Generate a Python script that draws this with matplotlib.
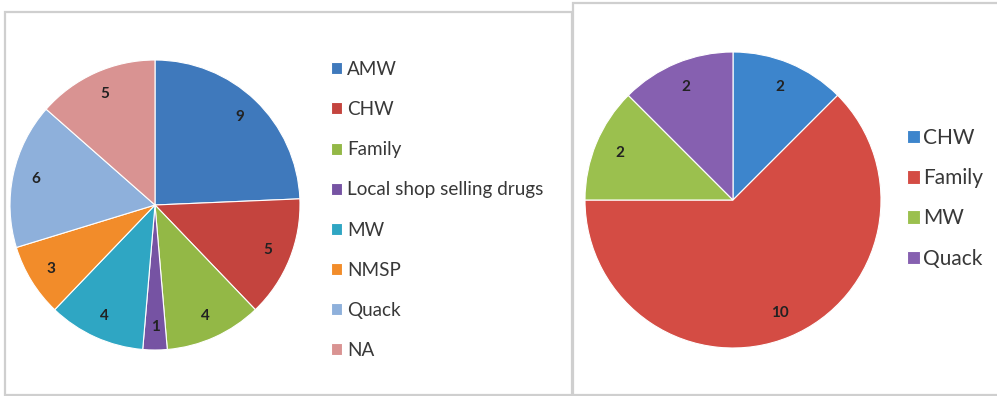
import matplotlib
matplotlib.use("Agg")
import matplotlib.pyplot as plt
from matplotlib.patches import Rectangle

plt.rcParams['font.family'] = ['Lato', 'DejaVu Sans']

# Sources of care, first group
left_labels = ["AMW", "CHW", "Family", "Local shop selling drugs", "MW", "NMSP", "Quack", "NA"]
left_values = [9, 5, 4, 1, 4, 3, 6, 5]
left_colors = ["#3F79BC", "#C4443E", "#93B846", "#7653A3", "#2FA6C3", "#F28C2A", "#8EB0DB", "#D99392"]

# Sources of care, second group
right_labels = ["CHW", "Family", "MW", "Quack"]
right_values = [2, 10, 2, 2]
right_colors = ["#3D85CC", "#D44C44", "#9BC04E", "#8660B0"]

W, H = 997, 396
fig = plt.figure(figsize=(W / 100, H / 100), dpi=100)
fig.patch.set_facecolor("white")


def px_axes(cx, cy, r):
    return fig.add_axes([(cx - r) / W, (H - cy - r) / H, 2 * r / W, 2 * r / H])


def frame(x0, y0, x1, y1):
    fig.patches.append(Rectangle((x0 / W, (H - y1) / H), (x1 - x0) / W, (y1 - y0) / H,
                                 transform=fig.transFigure, fill=False,
                                 edgecolor="#CFCFCF", linewidth=1.6))


frame(5, 12, 572, 395)
frame(573, 3, 1002, 395)


def draw_pie(ax, values, colors, labeldist):
    wedges, texts = ax.pie(values, colors=colors, startangle=90, counterclock=False,
                           labels=[str(v) for v in values], labeldistance=labeldist,
                           wedgeprops=dict(edgecolor="white", linewidth=0.8),
                           textprops=dict(fontsize=11, color="#222222", fontweight="bold",
                                          ha="center", va="center"))
    ax.set_xlim(-1.02, 1.02)
    ax.set_ylim(-1.02, 1.02)
    ax.set_aspect("equal")
    ax.axis("off")
    return wedges


axl = px_axes(155, 205, 145 * 1.02)
wl = draw_pie(axl, left_values, left_colors, 0.84)
fig.legend(wl, left_labels, loc="upper left", bbox_to_anchor=(331 / W, 1 - 61 / H),
           frameon=False, fontsize=13.6, handlelength=0.6, handleheight=0.6,
           handletextpad=0.26, labelspacing=1.225, borderpad=0, borderaxespad=0,
           labelcolor="#383838")

axr = px_axes(733, 200, 148 * 1.02)
wr = draw_pie(axr, right_values, right_colors, 0.83)
fig.legend(wr, right_labels, loc="upper left", bbox_to_anchor=(907 / W, 1 - 128 / H),
           frameon=False, fontsize=15, handlelength=0.62, handleheight=0.62,
           handletextpad=0.15, labelspacing=0.97, borderpad=0, borderaxespad=0,
           labelcolor="#383838")

fig.savefig("out.png", dpi=100, facecolor="white")
